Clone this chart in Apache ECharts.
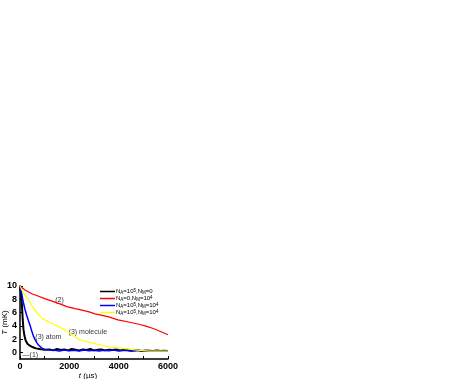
<!DOCTYPE html>
<html>
<head>
<meta charset="utf-8">
<script src="https://cdn.jsdelivr.net/npm/echarts@6/dist/echarts.min.js"></script>
<style>
  html, body { margin: 0; padding: 0; background: #fff; }
  #chart { width: 451px; height: 379px; }
</style>
</head>
<body>
<div id="chart"></div>
<script>
// time (us) / temperature (mK)
const blackT = [0, 40, 80, 110, 140, 180, 230, 300, 400, 500, 650, 800, 1000,
  1200, 1350, 1500, 1650, 1800, 1950, 2100, 2250, 2400, 2550, 2700, 2850, 3000, 3150, 3300, 3450,
  3600, 3750, 3900, 4050, 4200, 4350, 4500, 4650, 4800, 4950, 5100, 5250, 5400, 5550, 5700, 5850, 6000]
const blackY = [10, 9, 7, 5, 3.5, 2.5, 1.8, 1.3, 1.0, 0.8, 0.6, 0.5, 0.4,
  0.45, 0.3, 0.5, 0.35, 0.45, 0.3, 0.5, 0.4, 0.3, 0.45, 0.35, 0.5, 0.3, 0.4, 0.45, 0.3,
  0.4, 0.35, 0.45, 0.3, 0.35, 0.4, 0.25, 0.35, 0.3, 0.2, 0.3, 0.25, 0.2, 0.3, 0.2, 0.25, 0.2]

const redT = [0, 200, 500, 730, 1000, 1270, 1620, 1900, 2230, 2430, 2800, 3040, 3240, 3600, 3970, 4500, 4860, 5100, 5400, 5700, 6000]
const redY = [10, 9.4, 8.8, 8.5, 8.1, 7.75, 7.3, 6.9, 6.6, 6.45, 6.1, 5.8, 5.65, 5.35, 4.9, 4.5, 4.2, 3.95, 3.6, 3.15, 2.65]

const blueT = [0, 60, 120, 200, 270, 340, 405, 470, 540, 600, 675, 750, 810, 900, 1000, 1215,
  1400, 1600, 1800, 2000, 2200, 2400, 2600, 2800, 3000, 3200, 3400, 3600, 3800, 4000, 4200, 4400,
  4600, 4800, 5000, 5200, 5400, 5600, 5800, 6000]
const blueY = [10, 9, 7.8, 6.5, 5.6, 4.8, 4.1, 3.3, 2.5, 2.0, 1.5, 1.1, 0.85, 0.6, 0.45, 0.35,
  0.3, 0.2, 0.35, 0.25, 0.3, 0.2, 0.35, 0.25, 0.3, 0.2, 0.3, 0.25, 0.35, 0.2, 0.3, 0.25,
  0.2, 0.3, 0.2, 0.25, 0.15, 0.25, 0.2, 0.2]

const yellowT = [0, 100, 200, 324, 526, 729, 931, 1200, 1400, 1620, 1900, 2160, 2430, 2800, 3240, 3600, 4050, 4500, 4860, 5265, 5600, 6000]
const yellowY = [10, 9.2, 8.6, 8.0, 6.8, 5.8, 5.05, 4.5, 4.2, 3.8, 3.2, 2.5, 1.9, 1.5, 1.15, 0.85, 0.65, 0.45, 0.3, 0.2, 0.2, 0.2]

const legendNames = ['A5M0', 'A0M4', 'A5M4', 'A5M4b']
const xLabels = [0, 2000, 4000, 6000]
const yLabels = [0, 2, 4, 6, 8, 10]

// annotations: [text, t, T]
const notes = [
  ['(2)', 1600, 7.9],
  ['(3) molecule', 2750, 3.1],
  ['(3) atom', 1150, 2.35],
  ['\u2014(1)', 420, -0.35],
]

const legendText = {
  A5M0: '{n|N}{sb|A}{n|=10}{sp|5}{n|,N}{sb|M}{n|=0}',
  A0M4: '{n|N}{sb|A}{n|=0,N}{sb|M}{n|=10}{sp|4}',
  A5M4: '{n|N}{sb|A}{n|=10}{sp|5}{n|,N}{sb|M}{n|=10}{sp|4}',
  A5M4b: '{n|N}{sb|A}{n|=10}{sp|5}{n|,N}{sb|M}{n|=10}{sp|4}',
}

const zip = (a, b) => a.map((v, i) => [v, b[i]])
const font = 'Liberation Sans, Arial, sans-serif'

const chart = echarts.init(document.getElementById('chart'))

function line(name, t, y, color, width) {
  return {
    name,
    type: 'line',
    data: zip(t, y),
    showSymbol: false,
    symbol: 'none',
    lineStyle: { color, width },
    itemStyle: { color },
  }
}

const series = [
  line(legendNames[0], blackT, blackY, '#000000', 2),
  line(legendNames[1], redT, redY, '#ff0000', 1.2),
  line(legendNames[2], blueT, blueY, '#0000ff', 1.5),
  line(legendNames[3], yellowT, yellowY, '#ffff00', 1.2),
]
series.push({
  type: 'scatter',
  data: notes.map((n) => [n[1], n[2]]),
  symbolSize: 0,
  silent: true,
  label: {
    show: true,
    position: 'inside',
    formatter: (p) => notes[p.dataIndex][0],
    color: '#000',
    fontSize: 7,
    fontFamily: font,
  },
})

chart.setOption({
  backgroundColor: '#fff',
  animation: false,
  textStyle: { fontFamily: font },
  grid: { left: 20, right: 283, top: 286, bottom: 20, outerBoundsMode: 'none', containLabel: false },
  legend: {
    data: legendNames,
    orient: 'vertical',
    left: 100,
    top: 288,
    itemWidth: 15,
    itemHeight: 1.5,
    itemGap: 0,
    icon: 'rect',
    padding: 0,
    formatter: (name) => legendText[name],
    textStyle: {
      padding: [0, 0, 0, -4],
      rich: {
        n: { fontSize: 6, color: '#000', fontFamily: font, lineHeight: 7 },
        sb: { fontSize: 4.5, color: '#000', fontFamily: font, verticalAlign: 'bottom', lineHeight: 7 },
        sp: { fontSize: 4.5, color: '#000', fontFamily: font, verticalAlign: 'top', lineHeight: 7 },
      },
    },
  },
  xAxis: {
    type: 'value',
    min: 0,
    max: 6000,
    interval: 1000,
    name: '{i|t} (\u00b5s)',
    nameLocation: 'middle',
    nameGap: 13,
    nameMoveOverlap: false,
    nameTextStyle: {
      fontSize: 8,
      color: '#000',
      padding: [0, 12, 0, 0],
      rich: { i: { fontStyle: 'italic', fontSize: 8, color: '#000', fontFamily: font } },
    },
    axisLine: { onZero: false, lineStyle: { color: '#000', width: 1.5 } },
    axisTick: { inside: true, length: 3, lineStyle: { color: '#000' } },
    axisLabel: {
      customValues: xLabels,
      formatter: (v) => String(v),
      color: '#000', fontSize: 9, fontWeight: 'bold', margin: 3,
    },
    splitLine: { show: false },
  },
  yAxis: {
    type: 'value',
    min: -1,
    max: 10,
    name: '{i|T} (mK)',
    nameLocation: 'middle',
    nameGap: 11,
    nameMoveOverlap: false,
    nameRotate: 90,
    nameTextStyle: {
      fontSize: 8,
      color: '#000',
      rich: { i: { fontStyle: 'italic', fontSize: 8, color: '#000', fontFamily: font } },
    },
    axisLine: { show: true, onZero: false, lineStyle: { color: '#000', width: 1.5 } },
    axisTick: { show: true, inside: true, length: 3, customValues: yLabels, lineStyle: { color: '#000' } },
    axisLabel: {
      customValues: yLabels,
      formatter: (v) => String(v),
      color: '#000', fontSize: 9, fontWeight: 'bold', margin: 3,
    },
    splitLine: { show: false },
  },
  series,
})
</script>
</body>
</html>
